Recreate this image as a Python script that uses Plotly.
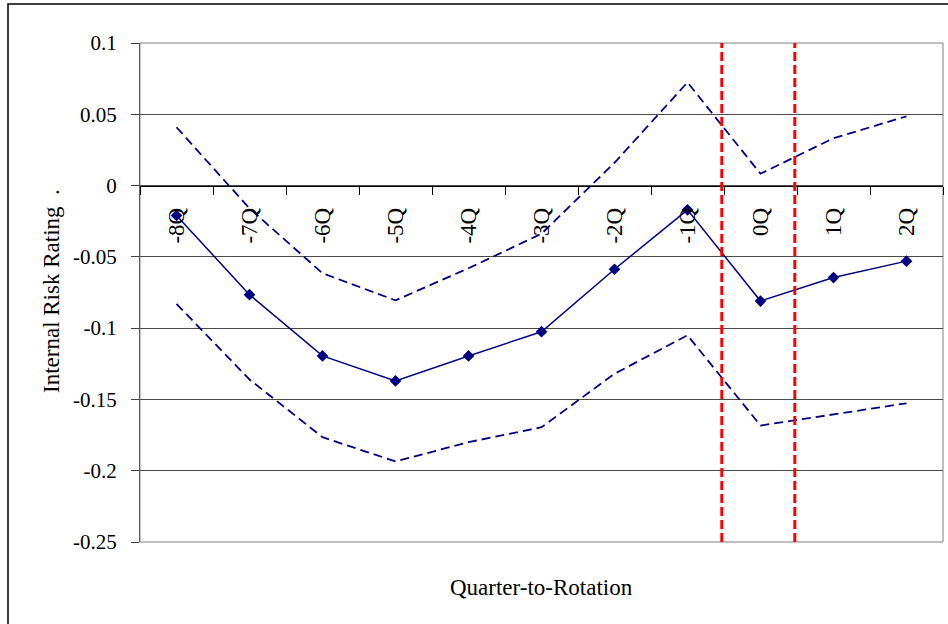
import plotly.graph_objects as go

quarters = ["-8Q", "-7Q", "-6Q", "-5Q", "-4Q", "-3Q", "-2Q", "-1Q", "0Q", "1Q", "2Q"]
rating = [-0.021, -0.0765, -0.1195, -0.137, -0.1195, -0.1025, -0.0587, -0.017, -0.081, -0.0645, -0.053]
upper = [0.0409, -0.016, -0.0615, -0.0805, -0.058, -0.0338, 0.016, 0.0724, 0.0083, 0.0332, 0.0486]
lower = [-0.083, -0.136, -0.1765, -0.1935, -0.18, -0.1695, -0.132, -0.105, -0.1683, -0.1605, -0.1527]
y_ticks = [0.1, 0.05, 0, -0.05, -0.1, -0.15, -0.2, -0.25]
y_tick_labels = ["0.1", "0.05", "0", "-0.05", "-0.1", "-0.15", "-0.2", "-0.25"]
event_lines = [7.47, 8.47]

navy = "#000080"
serif = "Liberation Serif"
W, H = 948, 624
ml, mr, mt, mb = 140, 5, 43, 82
pw, ph = W - ml - mr, H - mt - mb

def px_x(p):
    return (p - ml) / pw

def px_y(p):
    return (H - mb - p) / ph

fig = go.Figure()
fig.add_trace(go.Scatter(x=quarters, y=upper, mode="lines",
                         line=dict(color=navy, width=1.8, dash="9px,5px"),
                         showlegend=False, hoverinfo="skip"))
fig.add_trace(go.Scatter(x=quarters, y=lower, mode="lines",
                         line=dict(color=navy, width=1.8, dash="9px,5px"),
                         showlegend=False, hoverinfo="skip"))
fig.add_trace(go.Scatter(x=quarters, y=rating, mode="lines+markers",
                         line=dict(color=navy, width=1.5),
                         marker=dict(symbol="diamond", size=9, color=navy),
                         showlegend=False))

shapes = []
for xv in event_lines:
    shapes.append(dict(type="line", xref="x", yref="paper", x0=xv, x1=xv, y0=0, y1=1,
                       line=dict(color="#FF0000", width=3, dash="9px,4px"), layer="above"))
shapes.append(dict(type="rect", xref="paper", yref="paper", x0=0, x1=1, y0=0, y1=1,
                   line=dict(color="#808080", width=1), layer="below"))
shapes.append(dict(type="rect", xref="paper", yref="paper",
                   x0=px_x(8), x1=px_x(W + 20), y0=px_y(H + 20), y1=px_y(4),
                   line=dict(color="#000000", width=1.5), layer="below"))

fig.update_layout(
    width=W, height=H,
    margin=dict(l=ml, r=mr, t=mt, b=mb, autoexpand=False),
    paper_bgcolor="white", plot_bgcolor="white",
    font=dict(family=serif, color="black"),
    shapes=shapes,
    xaxis=dict(type="category", categoryorder="array", categoryarray=quarters,
               range=[-0.5, 10.5], anchor="free", position=0.25 / 0.35,
               showline=True, linecolor="black", linewidth=1,
               ticks="outside", tickson="boundaries", ticklen=8, tickcolor="black",
               tickangle=-90, tickfont=dict(family=serif, size=23, color="black"),
               ticklabelstandoff=12, showgrid=False, zeroline=False, automargin=False),
    yaxis=dict(range=[-0.25, 0.1], tickmode="array", tickvals=y_ticks, ticktext=y_tick_labels,
               showline=True, linecolor="#606060", linewidth=1,
               ticks="outside", ticklen=8, tickcolor="#404040",
               tickfont=dict(family=serif, size=21, color="black"),
               ticklabelstandoff=10, automargin=False,
               showgrid=True, gridcolor="#4a4a4a", gridwidth=1, zeroline=False),
    annotations=[
        dict(text="Quarter-to-Rotation", xref="paper", yref="paper",
             x=0.5, y=px_y(587), xanchor="center", yanchor="middle",
             showarrow=False, font=dict(family=serif, size=23, color="black")),
        dict(text="Internal Risk Rating  .", xref="paper", yref="paper",
             x=px_x(51), y=px_y(291), xanchor="center", yanchor="middle",
             textangle=-90, showarrow=False,
             font=dict(family=serif, size=23, color="black")),
    ],
)

fig.write_html("out.html", config={"displayModeBar": False},
               post_script="document.body.style.margin='0';document.body.style.overflow='hidden';")
